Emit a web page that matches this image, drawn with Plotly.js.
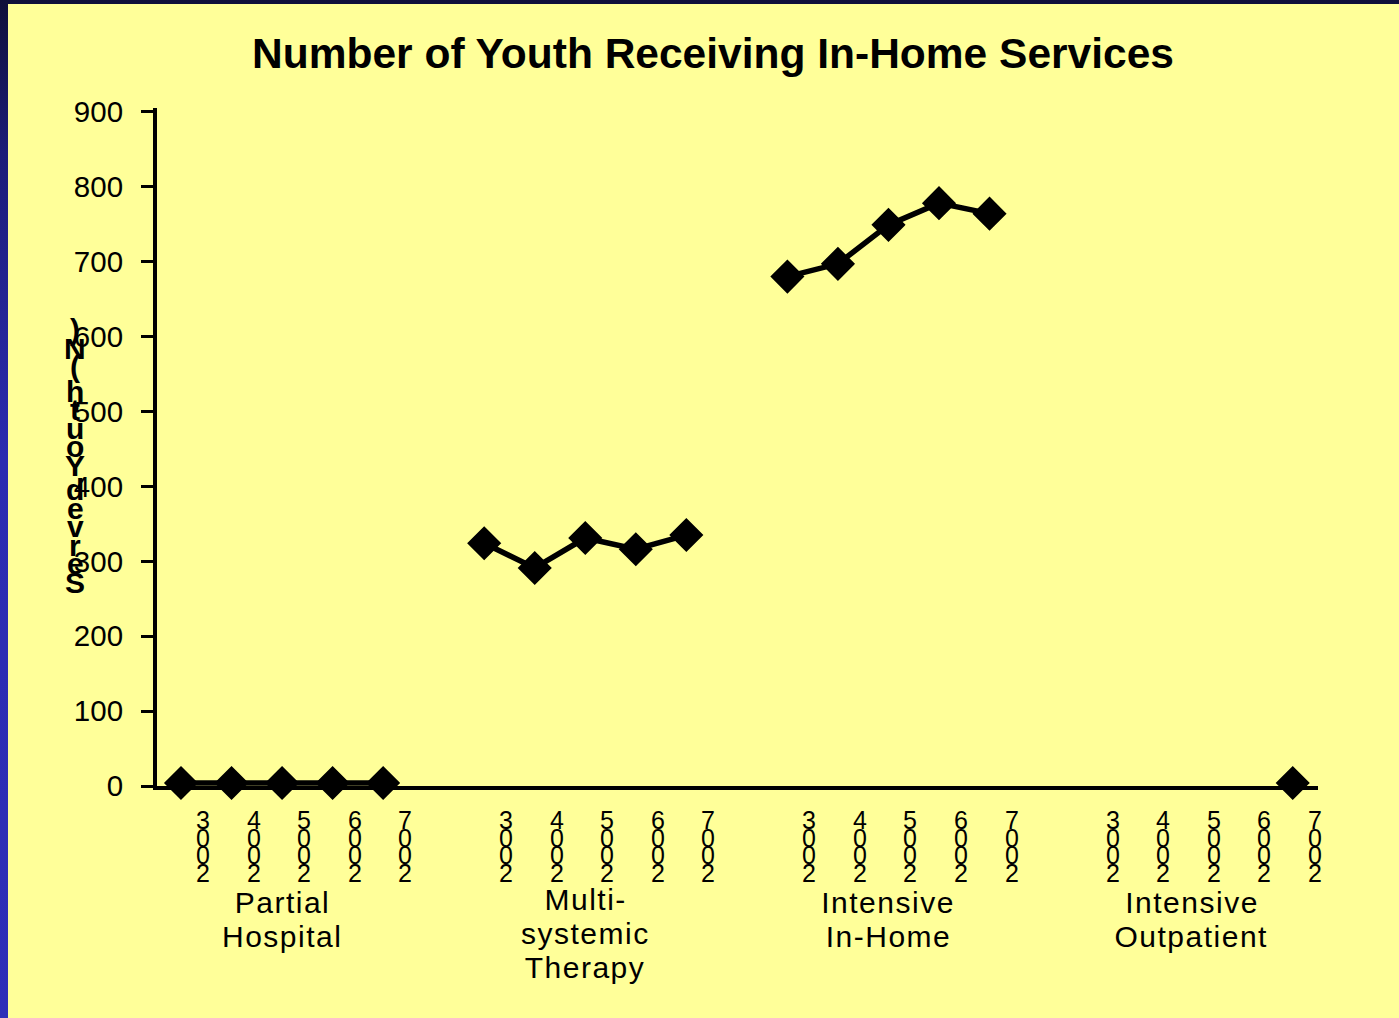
<!DOCTYPE html>
<html>
<head>
<meta charset="utf-8">
<script src="https://cdn.plot.ly/plotly-3.0.1.min.js"></script>
<style>
  html, body { margin: 0; padding: 0; width: 1399px; height: 1018px; overflow: hidden;
    background: linear-gradient(to bottom, #0f0f3a 0%, #1c1c78 15%, #2b2bb0 45%, #2e2eb8 100%); }
  #chart { position: absolute; left: 8px; top: 4px; width: 1391px; height: 1014px; }
</style>
</head>
<body>
<div id="chart"></div>
<script>
// ---- data ----
const years = ['2003', '2004', '2005', '2006', '2007'];
const programs = ['Partial Hospital', 'Multi-systemic Therapy', 'Intensive In-Home', 'Intensive Outpatient'];
const programLabelLines = [['Partial', 'Hospital'], ['Multi-', 'systemic', 'Therapy'], ['Intensive', 'In-Home'], ['Intensive', 'Outpatient']];
const partialHospital = [4, 4, 4, 4, 4];
const multisystemicTherapy = [324, 291, 331, 316, 335];
const intensiveInHome = [680, 697, 749, 778, 764];
const intensiveOutpatient = [null, null, null, null, 4];
const seriesValues = [partialHospital, multisystemicTherapy, intensiveInHome, intensiveOutpatient];
const titleText = 'Number of Youth Receiving In-Home Services';
const yTitleText = 'Served Youth (N)';

// ---- build ----
const FONT = 'Arial, "Liberation Sans", sans-serif';
const groupStride = years.length + 1;
const traces = [];
const annotations = [];

// plot area bottom in page px: 786 ; used for pixel offsets from paper y=0
const BASE = 786;

seriesValues.forEach((vals, g) => {
  const xs = years.map((_, k) => g * groupStride + k);
  traces.push({
    type: 'scatter', mode: 'lines+markers', name: programs[g],
    x: xs, y: vals, connectgaps: false, cliponaxis: false,
    line: { color: '#000000', width: 5.5 },
    marker: { symbol: 'diamond', size: 23, color: '#000000', line: { color: '#000000', width: 3 } },
    hoverinfo: 'skip'
  });
  // stacked year tick labels (characters reversed, top to bottom)
  years.forEach((yr, k) => {
    const chars = yr.split('').reverse();
    chars.forEach((ch, i) => {
      annotations.push({
        xref: 'x', x: g * groupStride + k, xshift: 22, xanchor: 'center',
        yref: 'paper', y: 0, yshift: BASE - (820 + i * 17.6), yanchor: 'middle',
        text: ch, showarrow: false, font: { family: FONT, size: 25, color: '#000' }
      });
    });
  });
  // group labels
  const mid = g * groupStride + (years.length - 1) / 2;
  const lines = programLabelLines[g];
  const top = lines.length > 2 ? 899 : 902;
  lines.forEach((ln, i) => {
    annotations.push({
      xref: 'x', x: mid, xanchor: 'center',
      yref: 'paper', y: 0, yshift: BASE - (top + i * 34), yanchor: 'middle',
      text: ln, showarrow: false, font: { family: FONT, size: 30, color: '#000' }
    });
  });
});

// y title: stacked characters bottom-to-top
(function () {
  let py = 582;
  yTitleText.split('').forEach((ch) => {
    if (ch === ' ') { py -= 6; return; }
    annotations.push({
      xref: 'paper', x: 0, xshift: 75 - 157, xanchor: 'center',
      yref: 'paper', y: 0, yshift: BASE - py, yanchor: 'middle',
      text: ch, showarrow: false, font: { family: FONT, size: 30, color: '#000', weight: 'bold' }
    });
    py -= 18.5;
  });
})();

const layout = {
  width: 1391, height: 1014,
  paper_bgcolor: '#FFFF99', plot_bgcolor: '#FFFF99',
  margin: { l: 149, r: 81, t: 104, b: 232, pad: 0 },
  showlegend: false,
  title: {
    text: '<b>' + titleText + '</b>',
    xref: 'container', x: 705 / 1391, xanchor: 'center',
    yref: 'container', y: 1 - 49 / 1014, yanchor: 'middle',
    font: { family: FONT, size: 42.5, color: '#000' }
  },
  xaxis: {
    range: [-0.475, 22.5], showgrid: false, zeroline: false,
    showline: true, linecolor: '#000', linewidth: 4,
    ticks: '', showticklabels: false, fixedrange: true
  },
  yaxis: {
    range: [0, 905], tickmode: 'linear', tick0: 0, dtick: 100,
    showgrid: false, zeroline: false,
    showline: true, linecolor: '#000', linewidth: 4,
    ticks: 'outside', ticklen: 12, tickwidth: 3, tickcolor: '#000',
    ticklabelstandoff: 12,
    tickfont: { family: FONT, size: 29.5, color: '#000' }, fixedrange: true
  },
  annotations: annotations
};

Plotly.newPlot('chart', traces, layout, { staticPlot: true, displayModeBar: false }).then(() => {
  document.querySelectorAll('.annotation-text').forEach((t) => {
    if ((t.textContent || '').length > 1) t.style.letterSpacing = '1.5px';
  });
});
</script>
</body>
</html>
